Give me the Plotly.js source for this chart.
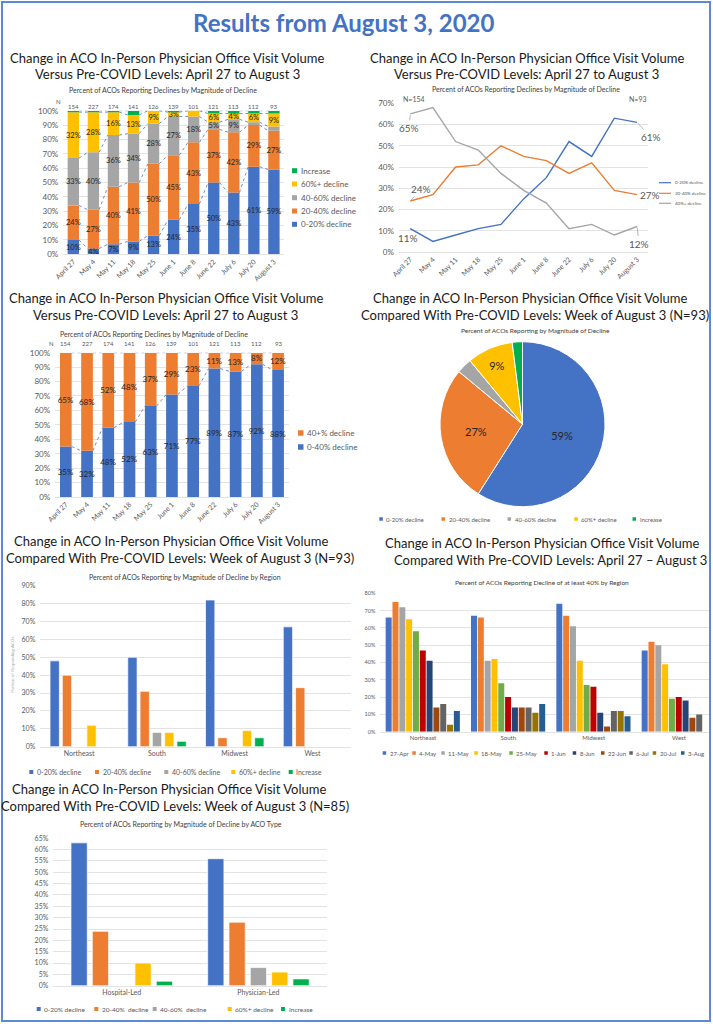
<!DOCTYPE html>
<html><head><meta charset="utf-8">
<script src="https://cdn.plot.ly/plotly-3.0.1.min.js"></script>
<style>html,body{margin:0;padding:0;background:#fff;}#c{width:713px;height:1024px;}</style>
</head><body><div id="c"></div>
<script>
// ---------------- DATA ----------------
const dates = ["April 27","May 4","May 11","May 18","May 25","June 1","June 8","June 22","July 6","July 20","August 3"];
const nCounts = [154,227,174,141,126,139,101,121,113,112,93];
const magnitudeNames = ["0-20% decline","20-40% decline","40-60% decline","60%+ decline","Increase"];

// Chart 1: stacked share by magnitude
const wk0_20  = [10,4,7,9,13,24,35,50,43,61,59];
const wk20_40 = [24,27,40,41,50,45,43,37,42,29,27];
const wk40_60 = [33,40,36,34,28,27,18,5,9,2,3];
const wk60p   = [32,28,16,13,9,3,5,6,4,6,9];
const wkInc   = [1,1,1,3,0,1,0,2,2,2,2];

// Chart 2: lines
const ln0_20  = [11,5,8,11,13,25,35,52,45,63,61];
const ln20_40 = [24,27,40,41,50,45,43,37,42,29,27];
const ln40p   = [65,68,52,48,37,29,23,11,13,8,12];
const lineNames = ["0-20% decline","20-40% decline","40%+ decline"];

// Chart 3: two-part stack
const st0_40 = [35,32,48,52,63,71,77,89,87,92,88];
const st40p  = [65,68,52,48,37,29,23,11,13,8,12];
const stNames = ["0-40% decline","40+% decline"];

// Chart 4: pie week of Aug 3
const pieValues = [59,27,3,9,2];

// Chart 5: by region
const regions = ["Northeast","South","Midwest","West"];
const reg0_20  = [48,50,82,67];
const reg20_40 = [40,31,5,33];
const reg40_60 = [0,8,0,0];
const reg60p   = [12,8,9,0];
const regInc   = [0,3,5,0];

// Chart 6: decline >=40% by region over weeks
const weeks = ["27-Apr","4-May","11-May","18-May","25-May","1-Jun","8-Jun","22-Jun","6-Jul","20-Jul","3-Aug"];
const rw27Apr = [66,67,74,47];
const rw4May  = [75,66,67,52];
const rw11May = [72,41,61,50];
const rw18May = [65,42,41,39];
const rw25May = [58,28,27,19];
const rw1Jun  = [47,20,26,20];
const rw8Jun  = [41,14,11,18];
const rw22Jun = [14,14,3,8];
const rw6Jul  = [16,14,12,10];
const rw20Jul = [4,11,12,null];
const rw3Aug  = [12,16,9,null];

// Chart 7: by ACO type
const acoTypes = ["Hospital-Led","Physician-Led"];
const aco0_20  = [63,56];
const aco20_40 = [24,28];
const aco40_60 = [0,8];
const aco60p   = [10,6];
const acoInc   = [2,3];
const acoLegendNames = ["0-20% decline","20-40%  decline","40-60%  decline","60%+ decline","Increase"];

// ---------------- STYLE ----------------
const magColors = ["#4472C4","#ED7D31","#A5A5A5","#FFC000","#00B050"];
const weekColors = ["#4472C4","#ED7D31","#A5A5A5","#FFC000","#70AD47","#C00000","#264478","#9E480E","#636363","#997300","#255E91"];
const W = 713, H = 1024;
const px = v => v / W;
const py = v => 1 - v / H;
const FONT = "Lato, 'Open Sans', sans-serif";
const TXT = "#595959";

const traces = [];
const annotations = [];
const shapes = [];

function ann(text, x, y, size, extra) {
  annotations.push(Object.assign({text, x: px(x), y: py(y), xref: 'paper', yref: 'paper',
    showarrow: false, xanchor: 'center', yanchor: 'middle',
    font: {family: FONT, size, color: '#1a1a1a'}}, extra || {}));
}
function legendSwatch(x, y, s, color, label, size) {
  shapes.push({type: 'rect', xref: 'paper', yref: 'paper', x0: px(x), x1: px(x + s), y0: py(y + s/2), y1: py(y - s/2),
    fillcolor: color, line: {width: 0}});
  ann(label, x + s + 1.5, y, size, {xanchor: 'left', font: {family: FONT, size, color: TXT}});
}
function legendLine(x, y, len, color, label, size) {
  shapes.push({type: 'line', xref: 'paper', yref: 'paper', x0: px(x), x1: px(x + len), y0: py(y), y1: py(y),
    line: {color, width: 1.2}});
  ann(label, x + len + 1.5, y, size, {xanchor: 'left', font: {family: FONT, size, color: TXT}});
}

const idx = dates.map((d, i) => i);

function yAxis(anchor, top, bottom, range, dtick, fs, extra) {
  return Object.assign({anchor, domain: [py(bottom), py(top)], range, dtick, ticksuffix: '%',
    showgrid: true, gridcolor: '#D9D9D9', gridwidth: 0.75, zeroline: false, showline: false,
    ticks: '', ticklabelstandoff: 4, tickfont: {family: FONT, size: fs, color: TXT}, fixedrange: true}, extra || {});
}
function xAxis(anchor, left, right, range, tickvals, ticktext, fs, extra) {
  return Object.assign({anchor, domain: [px(left), px(right)], range, tickvals, ticktext,
    showgrid: false, zeroline: false, showline: true, linecolor: '#D9D9D9', linewidth: 0.75,
    ticks: '', tickfont: {family: FONT, size: fs, color: TXT}, fixedrange: true}, extra || {});
}

// ---------------- CHART 1 ----------------
(function () {
  const series = [wk0_20, wk20_40, wk40_60, wk60p, wkInc];
  const bw = 0.565, hw = bw / 2;
  let cum = dates.map(() => 0);
  series.forEach((vals, k) => {
    const base = cum.slice();
    let text;
    if (k === 4) text = vals.map(() => '');
    else if (k === 2) text = vals.map(v => v >= 4 ? v + '%' : '');
    else text = vals.map(v => v + '%');
    traces.push({type: 'bar', x: idx, y: vals, base, width: bw, xaxis: 'x', yaxis: 'y',
      marker: {color: magColors[k], line: {width: 0}}, text, textposition: 'inside', insidetextanchor: 'middle',
      textangle: 0, constraintext: 'none', textfont: {family: FONT, size: 7.5, color: '#262626'},
      showlegend: false, hoverinfo: 'skip', cliponaxis: false});
    cum = cum.map((c, i) => c + vals[i]);
    const lx = [], ly = [];
    for (let i = 0; i < dates.length - 1; i++) { lx.push(i + hw, i + 1 - hw, null); ly.push(Math.min(cum[i],100), Math.min(cum[i + 1],100), null); }
    traces.push({type: 'scatter', mode: 'lines', x: lx, y: ly, xaxis: 'x', yaxis: 'y',
      line: {color: '#4472C4', width: 0.8, dash: 'dot'}, showlegend: false, hoverinfo: 'skip'});
  });
  nCounts.forEach((n, i) => annotations.push({text: String(n), x: i, y: py(101), xref: 'x', yref: 'paper',
    showarrow: false, font: {family: FONT, size: 6, color: TXT}}));
  ann('N', 58, 101, 6, {font: {family: FONT, size: 6, color: TXT}});
  ann('Change in ACO In-Person Physician Office Visit Volume', 167, 58, 13);
  ann('Versus Pre-COVID Levels: April 27 to August 3', 167, 74, 13);
  ann('Percent of ACOs Reporting Declines by Magnitude of Decline', 163, 90, 7, {font: {family: FONT, size: 7, color: '#404040'}});
  const ly = [224.3, 211, 197.7, 184, 170.7];
  magnitudeNames.forEach((nm, k) => legendSwatch(292, ly[k], 5, magColors[k], nm, 8));
})();

// ---------------- CHART 2 ----------------
(function () {
  const lines = [ln0_20, ln20_40, ln40p];
  const cols = ["#4472C4", "#ED7D31", "#A5A5A5"];
  lines.forEach((vals, k) => traces.push({type: 'scatter', mode: 'lines', x: idx, y: vals, xaxis: 'x2', yaxis: 'y2',
    line: {color: cols[k], width: 1.4}, showlegend: false, hoverinfo: 'skip'}));
  const last = dates.length - 1;
  const lab = (x, y, t, ax, ay, arrow) => annotations.push({text: t + '%', x, y, xref: 'x2', yref: 'y2',
    showarrow: !!arrow, ax, ay, xshift: arrow ? 0 : ax, yshift: arrow ? 0 : -ay, arrowhead: 0, arrowwidth: 0.8, arrowcolor: '#A6A6A6', standoff: 1,
    font: {family: FONT, size: 10, color: TXT}});
  lab(0, ln40p[0], ln40p[0], -1, 14, true);
  lab(0, ln20_40[0], ln20_40[0], 11, -12, true);
  lab(0, ln0_20[0], ln0_20[0], -2, 9, false);
  lab(last, ln0_20[last], ln0_20[last], 14, 15, true);
  lab(last, ln20_40[last], ln20_40[last], 13, 0, false);
  lab(last, ln40p[last], ln40p[last], 2, 17, true);
  ann('N=' + nCounts[0], 414, 99, 7, {font: {family: FONT, size: 7, color: TXT}});
  ann('N=' + nCounts[last], 638, 99, 7, {font: {family: FONT, size: 7, color: TXT}});
  ann('Change in ACO In-Person Physician Office Visit Volume', 527, 58, 13);
  ann('Versus Pre-COVID Levels: April 27 to August 3', 526, 74, 13);
  ann('Percent of ACOs Reporting Declines by Magnitude of Decline', 526, 89, 7, {font: {family: FONT, size: 7, color: '#404040'}});
  const ly = [182.7, 193.3, 203.3];
  lineNames.forEach((nm, k) => legendLine(659, ly[k], 12, cols[k], nm, 4.5));
})();

// ---------------- CHART 3 ----------------
(function () {
  const series = [st0_40, st40p];
  const cols = ["#4472C4", "#ED7D31"];
  const bw = 0.55, hw = bw / 2;
  let cum = dates.map(() => 0);
  series.forEach((vals, k) => {
    const base = cum.slice();
    traces.push({type: 'bar', x: idx, y: vals, base, width: bw, xaxis: 'x3', yaxis: 'y3',
      marker: {color: cols[k], line: {width: 0}}, text: vals.map(v => v + '%'), textposition: 'inside', insidetextanchor: 'middle',
      textangle: 0, constraintext: 'none', textfont: {family: FONT, size: 8, color: '#262626'},
      showlegend: false, hoverinfo: 'skip', cliponaxis: false});
    cum = cum.map((c, i) => c + vals[i]);
    const lx = [], ly = [];
    for (let i = 0; i < dates.length - 1; i++) { lx.push(i + hw, i + 1 - hw, null); ly.push(cum[i], cum[i + 1], null); }
    traces.push({type: 'scatter', mode: 'lines', x: lx, y: ly, xaxis: 'x3', yaxis: 'y3',
      line: {color: '#4472C4', width: 0.8, dash: 'dot'}, showlegend: false, hoverinfo: 'skip'});
  });
  nCounts.forEach((n, i) => annotations.push({text: String(n), x: i, y: py(343), xref: 'x3', yref: 'paper',
    showarrow: false, font: {family: FONT, size: 6, color: TXT}}));
  ann('N', 51, 343, 6, {font: {family: FONT, size: 6, color: TXT}});
  ann('Change in ACO In-Person Physician Office Visit Volume', 166, 298, 13);
  ann('Versus Pre-COVID Levels: April 27 to August 3', 165, 315, 13);
  ann('Percent of ACOs Reporting Declines by Magnitude of Decline', 154, 334, 7, {font: {family: FONT, size: 7, color: '#404040'}});
  legendSwatch(298, 433, 5.5, cols[1], stNames[1], 8);
  legendSwatch(298, 447, 5.5, cols[0], stNames[0], 8);
})();

// ---------------- CHART 4 (pie) ----------------
(function () {
  traces.push({type: 'pie', values: pieValues, labels: magnitudeNames, sort: false, direction: 'clockwise', rotation: 0,
    marker: {colors: magColors, line: {color: '#ffffff', width: 1}},
    text: pieValues.map(v => v >= 5 ? v + '%' : ''), textinfo: 'text', textposition: 'inside',
    insidetextorientation: 'horizontal', textfont: {family: FONT, size: 11, color: '#262626'},
    domain: {x: [px(440), px(605)], y: [py(506.7), py(341.7)]}, showlegend: false, hoverinfo: 'skip'});
  ann('Change in ACO In-Person Physician Office Visit Volume', 530, 298, 13);
  ann('Compared With Pre-COVID Levels: Week of August 3 (N=93)', 535, 315, 13);
  ann('Percent of ACOs Reporting by Magnitude of Decline', 535, 330, 6.5, {font: {family: FONT, size: 6.5, color: '#404040'}});
  const lx = [379.3, 441.5, 507.5, 574.3, 632.5];
  magnitudeNames.forEach((nm, k) => legendSwatch(lx[k], 519, 3.5, magColors[k], nm, 6));
})();

// ---------------- CHART 5 (region) ----------------
(function () {
  const series = [reg0_20, reg20_40, reg40_60, reg60p, regInc];
  const start = -0.375, slot = 0.158, bw = 0.12;
  series.forEach((vals, k) => traces.push({type: 'bar', x: regions.map((r, i) => i), y: vals, width: bw, offset: start + k * slot,
    xaxis: 'x4', yaxis: 'y4', marker: {color: magColors[k], line: {color: 'rgba(255,255,255,0.9)', width: 0.8}},
    showlegend: false, hoverinfo: 'skip'}));
  ann('Change in ACO In-Person Physician Office Visit Volume', 171, 541, 13);
  ann('Compared With Pre-COVID Levels: Week of August 3 (N=93)', 180, 558, 13);
  ann('Percent of ACOs Reporting by Magnitude of Decline by Region', 185, 577, 7, {font: {family: FONT, size: 7, color: '#404040'}});
  ann('Portion of Responding ACOs', 12, 665, 4.5, {textangle: -90, font: {family: FONT, size: 4.5, color: '#A6A6A6'}});
  const lx = [29.3, 95, 164.3, 231.3, 288.7];
  magnitudeNames.forEach((nm, k) => legendSwatch(lx[k], 772, 4, magColors[k], nm, 7));
})();

// ---------------- CHART 6 (region over weeks) ----------------
(function () {
  const series = [rw27Apr, rw4May, rw11May, rw18May, rw25May, rw1Jun, rw8Jun, rw22Jun, rw6Jul, rw20Jul, rw3Aug];
  const start = -0.437, slot = 0.0799, bw = 0.0703;
  series.forEach((vals, k) => traces.push({type: 'bar', x: regions.map((r, i) => i), y: vals, width: bw, offset: start + k * slot,
    xaxis: 'x5', yaxis: 'y5', marker: {color: weekColors[k], line: {width: 0}}, showlegend: false, hoverinfo: 'skip'}));
  ann('Change in ACO In-Person Physician Office Visit Volume', 542, 543, 13);
  ann('Compared With Pre-COVID Levels: April 27 \u2013 August 3', 550, 560, 13);
  ann('Percent of ACOs Reporting Decline of at least 40% by Region', 542, 582, 6.5, {font: {family: FONT, size: 6.5, color: '#404040'}});
  const lx = [382.7, 412.3, 441.3, 474.3, 509.3, 544.3, 572.7, 601, 629.3, 652.7, 681];
  weeks.forEach((nm, k) => legendSwatch(lx[k], 753, 3.5, weekColors[k], nm, 6));
})();

// ---------------- CHART 7 (ACO type) ----------------
(function () {
  const series = [aco0_20, aco20_40, aco40_60, aco60p, acoInc];
  const start = -0.371, slot = 0.156, bw = 0.119;
  series.forEach((vals, k) => traces.push({type: 'bar', x: acoTypes.map((r, i) => i), y: vals, width: bw, offset: start + k * slot,
    xaxis: 'x6', yaxis: 'y6', marker: {color: magColors[k], line: {color: 'rgba(255,255,255,0.9)', width: 0.8}},
    showlegend: false, hoverinfo: 'skip'}));
  ann('Change in ACO In-Person Physician Office Visit Volume', 169, 789, 13);
  ann('Compared With Pre-COVID Levels: Week of August 3 (N=85)', 175, 806, 13);
  ann('Percent of ACOs Reporting by Magnitude of Decline by ACO Type', 181, 824, 7, {font: {family: FONT, size: 7, color: '#404040'}});
  const lx = [36.7, 94.3, 152.7, 227.7, 281];
  acoLegendNames.forEach((nm, k) => legendSwatch(lx[k], 1009, 4, magColors[k], nm, 6.5));
})();

// main title + frame
ann('<b>Results from August 3, 2020</b>', 343, 22, 24, {font: {family: FONT, size: 24, color: '#4472C4'}});
shapes.push({type: 'rect', xref: 'paper', yref: 'paper', x0: px(2), x1: px(710), y0: py(1021), y1: py(2),
  line: {color: '#5B8BD6', width: 2}, fillcolor: 'rgba(0,0,0,0)'});

const layout = {
  width: W, height: H, margin: {l: 0, r: 0, t: 0, b: 0}, paper_bgcolor: '#fff', plot_bgcolor: 'rgba(0,0,0,0)',
  barmode: 'overlay', showlegend: false, font: {family: FONT},
  xaxis:  xAxis('y',  63.3, 283.95, [-0.5, 10.5], idx, dates, 7, {tickangle: -45}),
  yaxis:  yAxis('x',  110.7, 254.3, [0, 100], 10, 8),
  xaxis2: xAxis('y2', 398.9, 648.4, [-0.5, 10.5], idx, dates, 7, {tickangle: -45}),
  yaxis2: yAxis('x2', 103.3, 252, [0, 70], 10, 8),
  xaxis3: xAxis('y3', 55.2, 288.7, [-0.5, 10.5], idx, dates, 7, {tickangle: -45}),
  yaxis3: yAxis('x3', 352.7, 497, [0, 100], 10, 8),
  xaxis4: xAxis('y4', 40.3, 351.3, [-0.5, 3.5], [0, 1, 2, 3], regions, 7),
  yaxis4: yAxis('x4', 585.7, 746.7, [0, 90], 10, 7),
  xaxis5: xAxis('y5', 380.3, 709, [-0.5, -0.5 + (709 - 380.3) / 85.33], [0, 1, 2, 3], regions, 6),
  yaxis5: yAxis('x5', 593.3, 731.7, [0, 80], 10, 5.5),
  xaxis6: xAxis('y6', 53.35, 326.7, [-0.5, 1.5], [0, 1], acoTypes, 7),
  yaxis6: yAxis('x6', 838.3, 985.7, [0, 65], 5, 7),
  annotations, shapes
};
Plotly.newPlot('c', traces, layout, {staticPlot: true, displayModeBar: false});
</script></body></html>
